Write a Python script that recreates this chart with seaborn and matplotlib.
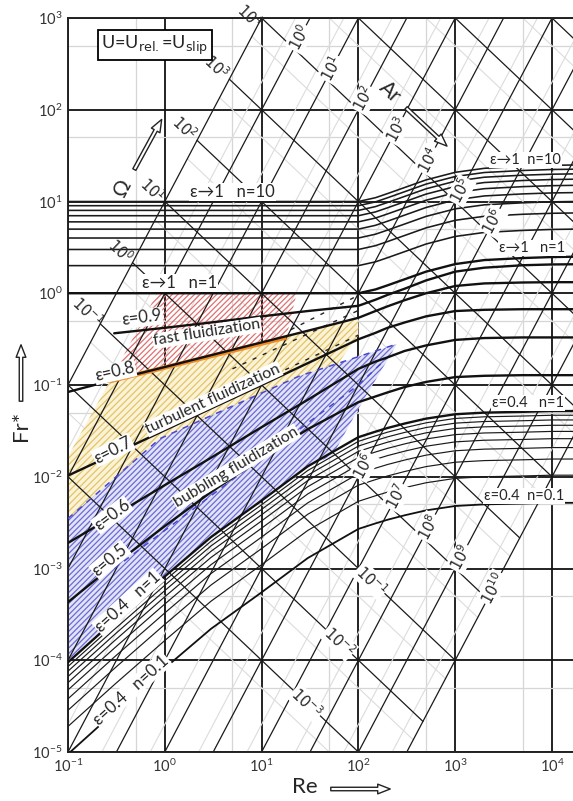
import numpy as np
import pandas as pd
import matplotlib
matplotlib.use("Agg")
import matplotlib.pyplot as plt
import seaborn as sns
from matplotlib.patches import Polygon, FancyArrowPatch
from matplotlib.ticker import FixedLocator, NullFormatter, LogFormatterSciNotation

# ---------------- data ----------------
re_left = [0.1, 0.3, 1, 3, 10, 30, 100]
re_right = [100, 150, 200, 300, 500, 1000, 2000, 5000, 10000, 17000]
eps_names = ["1", "0.9", "0.8", "0.7", "0.6", "0.5", "0.4"]
fr_left = {
    "1":   [1, 1, 1, 1, 1, 1, 1],
    "0.9": [np.nan, 0.366, 0.42, 0.48, 0.56, 0.64, 0.73],
    "0.8": [0.084, 0.114, 0.157, 0.211, 0.291, 0.39, 0.54],
    "0.7": [0.0103, 0.0177, 0.0322, 0.0555, 0.100, 0.173, 0.315],
    "0.6": [0.0019, 0.00378, 0.0081, 0.0161, 0.0347, 0.069, 0.15],
    "0.5": [0.00043, 0.0011, 0.0029, 0.0068, 0.016, 0.033, 0.065],
    "0.4": [0.000095, 0.00027, 0.00082, 0.0022, 0.0055, 0.013, 0.027],
}
fr_right = {
    "1":   [1.0, 1.1, 1.22, 1.42, 1.72, 2.08, 2.3, 2.42, 2.48, 2.5],
    "0.9": [0.73, 0.85, 0.96, 1.12, 1.38, 1.72, 1.9, 2.02, 2.06, 2.07],
    "0.8": [0.54, 0.64, 0.72, 0.84, 1.0, 1.2, 1.28, 1.31, 1.32, 1.32],
    "0.7": [0.315, 0.37, 0.42, 0.48, 0.56, 0.64, 0.66, 0.67, 0.67, 0.67],
    "0.6": [0.15, 0.18, 0.2, 0.235, 0.27, 0.31, 0.325, 0.33, 0.33, 0.33],
    "0.5": [0.065, 0.075, 0.083, 0.095, 0.108, 0.122, 0.126, 0.128, 0.128, 0.128],
    "0.4": [0.027, 0.031, 0.034, 0.038, 0.043, 0.048, 0.05, 0.051, 0.052, 0.052],
}
n_top = [2, 3, 4, 5, 6, 7, 8, 9, 10]                 # family eps -> 1
n_bottom = [0.2, 0.3, 0.4, 0.5, 0.6, 0.7, 0.8, 0.9]  # family eps = 0.4
n_bottom_end = 0.1
omega_major = [1e-3, 1e-2, 1e-1, 1e0, 1e1, 1e2, 1e3, 1e4, 1e5, 1e6, 1e7]
ar_major = [1e-1, 1e0, 1e1, 1e2, 1e3, 1e4, 1e5, 1e6, 1e7, 1e8, 1e9, 1e10]
omega_minor = [5e-4, 5e-3, 5e-2, 5e-1, 5e0, 5e1, 5e2, 5e3, 5e4, 5e5, 5e6]
ar_minor = [5e-1, 5e0, 5e1, 5e2, 5e3, 5e4, 5e5, 5e6, 5e7, 5e8, 5e9]
ar_min, ar_max = 0.1, 1e10
omega_labels_top = [1e-1, 1e0, 1e1, 1e2, 1e3, 1e4]
omega_labels_low = [1e-1, 1e-2, 1e-3]
ar_labels_top = [1e0, 1e1, 1e2, 1e3, 1e4, 1e5, 1e6]
ar_labels_low = [1e6, 1e7, 1e8, 1e9, 1e10]
x_ticks = [1e-1, 1e0, 1e1, 1e2, 1e3, 1e4]
y_ticks = [1e-5, 1e-4, 1e-3, 1e-2, 1e-1, 1e0, 1e1, 1e2, 1e3]
x_minor = [0.5, 5, 50, 500, 5000]
y_minor = [5e-5, 5e-4, 5e-3, 5e-2, 5e-1, 5e0, 5e1, 5e2]

# regions
red_re = [0.83, 23, 18, 0.27]
red_fr = [1.0, 1.0, 0.33, 0.11]
yel_re = [0.1, 0.27, 1, 3, 10, 30, 100, 100, 40, 0.1]
yel_fr = [0.0167, 0.11, 0.157, 0.211, 0.291, 0.39, 0.54, 0.35, 0.09, 0.0015]
blu_re = [0.1, 0.89, 24.5, 250, 100, 54, 30, 10, 3, 1, 0.3, 0.1]
blu_fr = [0.0035, 0.026, 0.125, 0.28, 0.055, 0.017, 0.013, 0.0055, 0.0022, 0.00082, 0.00027, 0.000095]
dash_black = [([20, 100], [0.40, 0.95]), ([5, 100], [0.15, 0.65]), ([1, 100], [0.035, 0.35])]
dash_blue = [([0.1, 0.89, 24.5, 250], [0.0035, 0.026, 0.125, 0.28]),
             ([0.3, 100, 200], [0.001, 0.1, 0.2])]

# ---------------- figure ----------------
W, H = 573, 801
sns.set_style("white")
plt.rcParams["font.family"] = ["Lato", "DejaVu Sans"]
plt.rcParams["mathtext.fontset"] = "dejavusans"
plt.rcParams["hatch.linewidth"] = 0.9

fig = plt.figure(figsize=(W / 100, H / 100), dpi=100)
x0, y0, y1 = 68, 752, 18
ax = fig.add_axes([x0 / W, (H - y0) / H, (W - x0) / W, (y0 - y1) / H])
ax.set_xscale("log")
ax.set_yscale("log")
xmax = 10 ** (-1 + (W - x0) / 96.8)
ax.set_xlim(0.1, xmax)
ax.set_ylim(1e-5, 1e3)

def fx(px):
    return px / W

def fy(py):
    return 1 - py / H

# grid and ticks
ax.xaxis.set_major_locator(FixedLocator(x_ticks))
ax.yaxis.set_major_locator(FixedLocator(y_ticks))
ax.xaxis.set_major_formatter(LogFormatterSciNotation())
ax.yaxis.set_major_formatter(LogFormatterSciNotation())
ax.xaxis.set_minor_locator(FixedLocator(x_minor))
ax.yaxis.set_minor_locator(FixedLocator(y_minor))
ax.xaxis.set_minor_formatter(NullFormatter())
ax.yaxis.set_minor_formatter(NullFormatter())
ax.grid(which="minor", color="#d6d6d6", lw=0.9, zorder=0)
ax.grid(which="major", color="#111111", lw=1.3, zorder=1)
ax.set_axisbelow(True)
ax.tick_params(which="both", length=0, labelsize=10.5, colors="#333333", pad=4)
for s in ["left", "top", "bottom"]:
    ax.spines[s].set_color("#222222")
    ax.spines[s].set_linewidth(1.4)
ax.spines["right"].set_visible(False)

# ---------------- regions ----------------
def region(res, frs, face, hatchc, hatch, z):
    pts = np.column_stack([res, frs])
    if face is not None:
        ax.add_patch(Polygon(pts, closed=True, facecolor=face, edgecolor="none", lw=0, zorder=z))
    ax.add_patch(Polygon(pts, closed=True, facecolor="none", edgecolor=hatchc, hatch=hatch, lw=0, zorder=z + 0.1))

region(yel_re, yel_fr, "#fbf3d6", "#e3c46a", "/////", 1.5)
region(blu_re, blu_fr, "#e3e3f7", "#6b6bd6", "//////", 1.7)
region(red_re, red_fr, None, "#e07070", "//////", 1.6)

# ---------------- diagonal Omega / Ar lines ----------------
def diag_frame(omegas, ars):
    rows = []
    for i, om in enumerate(omegas):
        r0, r1 = (om * ar_min) ** (1 / 3), (om * ar_max) ** (1 / 3)
        for r in (r0, r1):
            rows.append(("om%d" % i, r, om / r))
    for i, a in enumerate(ars):
        for r in (1e-2, 1e6):
            rows.append(("ar%d" % i, r, r * r / a))
    return pd.DataFrame(rows, columns=["id", "Re", "Fr"])

sns.lineplot(data=diag_frame(omega_minor, ar_minor), x="Re", y="Fr", units="id",
             estimator=None, sort=False, color="#dcdcdc", lw=0.8, ax=ax, zorder=1.2)
sns.lineplot(data=diag_frame(omega_major, ar_major), x="Re", y="Fr", units="id",
             estimator=None, sort=False, color="#1a1a1a", lw=0.9, ax=ax, zorder=2)

# ---------------- eps / n curves ----------------
re_all = re_left + re_right
rows = []
for e in eps_names:
    for r, f in zip(re_all, fr_left[e] + fr_right[e]):
        rows.append(("e" + e, r, f))
dthick = pd.DataFrame(rows, columns=["id", "Re", "Fr"])

base_top = fr_left["1"] + fr_right["1"]
base_bot = fr_left["0.4"] + fr_right["0.4"]
dtop = pd.DataFrame([("t%g" % n, r, n * f) for n in n_top for r, f in zip(re_all, base_top)],
                    columns=["id", "Re", "Fr"])
dbot = pd.DataFrame([("b%g" % n, r, n * f) for n in n_bottom for r, f in zip(re_all, base_bot)],
                    columns=["id", "Re", "Fr"])
dend = pd.DataFrame([("b01", r, n_bottom_end * f) for r, f in zip(re_all, base_bot)],
                    columns=["id", "Re", "Fr"])

# orange border below the red region
ax.plot(red_re[2:][::-1], red_fr[2:][::-1], color="#f08a24", lw=3.2, zorder=2.5, solid_capstyle="butt")

sns.lineplot(data=dtop, x="Re", y="Fr", units="id", estimator=None, sort=False,
             color="#1a1a1a", lw=1.15, ax=ax, zorder=3)
sns.lineplot(data=dbot, x="Re", y="Fr", units="id", estimator=None, sort=False,
             color="#1a1a1a", lw=0.85, ax=ax, zorder=3)
sns.lineplot(data=dend, x="Re", y="Fr", units="id", estimator=None, sort=False,
             color="#111111", lw=1.3, ax=ax, zorder=3)
sns.lineplot(data=dthick, x="Re", y="Fr", units="id", estimator=None, sort=False,
             color="#111111", lw=1.7, ax=ax, zorder=3.2)

for xs, ys in dash_black:
    ax.plot(xs, ys, color="#222222", lw=1.0, ls=(0, (3, 5)), zorder=3)
for xs, ys in dash_blue:
    ax.plot(xs, ys, color="#4848d0", lw=1.1, ls=(0, (4, 4)), zorder=3)

ax.set_xlabel("")
ax.set_ylabel("")
if ax.get_legend() is not None:
    ax.get_legend().remove()

# ---------------- labels on the diagonals ----------------
wb = dict(facecolor="white", edgecolor="none", pad=0.6)
def mexp(v):
    return r"$10^{%d}$" % int(round(np.log10(v)))

for om in omega_labels_top:
    r0 = (om * ar_min) ** (1 / 3)
    up = 0.13 if om < 1e4 else 0.02
    ax.text(r0 * 10 ** -0.13, om / r0 * 10 ** up, mexp(om), rotation=-43.5, fontsize=10.5,
            ha="center", va="center", zorder=6, clip_on=False)
for om in omega_labels_low:
    r = (om * 2.5e7) ** (1 / 3)
    ax.text(r, om / r, mexp(om), rotation=-43.5, fontsize=10.5, ha="center", va="center",
            bbox=wb, zorder=6)
for a in ar_labels_top:
    r = (a * 1.5e4) ** (1 / 3)
    ax.text(r, r * r / a, mexp(a), rotation=62, fontsize=10.5, ha="center", va="center",
            bbox=wb, zorder=6)
for a in ar_labels_low:
    r = (a * 1.5) ** (1 / 3)
    ax.text(r, r * r / a, mexp(a), rotation=62, fontsize=10.5, ha="center", va="center",
            bbox=wb, zorder=6)

# ---------------- curve / region labels (pixel positions) ----------------
def ptxt(x, y, s, rot=0, size=12, ha="center", bbox=True):
    fig.text(fx(x), fy(y), s, rotation=rot, fontsize=size, ha=ha, va="center",
             rotation_mode="anchor", bbox=wb if bbox else None, zorder=7)

ptxt(190, 192, "ε→1   n=10", ha="left")
ptxt(490, 160, "ε→1  n=10", ha="left", size=10.5)
ptxt(142, 283, "ε→1   n=1", ha="left")
ptxt(499, 248, "ε→1   n=1", ha="left", size=10.5)
ptxt(142, 318, "ε=0.9", rot=7)
ptxt(115, 372, "ε=0.8", rot=13)
ptxt(113, 450, "ε=0.7", rot=27)
ptxt(112, 515, "ε=0.6", rot=37)
ptxt(110, 560, "ε=0.5", rot=40)
ptxt(128, 602, "ε=0.4   n=1", rot=42)
ptxt(131, 690, "ε=0.4   n=0.1", rot=42)
ptxt(492, 403, "ε=0.4   n=1", ha="left", size=10.5)
ptxt(484, 496, "ε=0.4  n=0.1", ha="left", size=10.5)
ptxt(207, 333, "fast fluidization", rot=9, size=11.5)
ptxt(213, 399, "turbulent fluidization", rot=25, size=11.5)
ptxt(236, 467, "bubbling fluidization", rot=31, size=11.5)

# box
fig.text(fx(155), fy(45), r"U=U$_{\rm rel.}$=U$_{\rm slip}$", fontsize=13, ha="center",
         va="center", bbox=dict(facecolor="white", edgecolor="black", lw=1.3, pad=2.5), zorder=8)

# axis titles with hollow arrows
fig.text(fx(305), fy(787), "Re", fontsize=16, ha="center", va="center")
fig.text(fx(21), fy(426), "Fr*", fontsize=16, ha="center", va="center", rotation=90)
fig.text(fx(390), fy(92), "Ar", fontsize=15, ha="center", va="center", rotation=-43)
fig.text(fx(123), fy(188), "Ω", fontsize=15, ha="center", va="center", rotation=62)

def parrow(xa, ya, xb, yb):
    p = FancyArrowPatch((fx(xa), fy(ya)), (fx(xb), fy(yb)), transform=fig.transFigure,
                        arrowstyle="simple,head_width=7,head_length=9,tail_width=2.5",
                        fc="white", ec="#222222", lw=1.0, zorder=8, mutation_scale=1)
    fig.patches.append(p)

parrow(328, 789, 393, 789)
parrow(21, 404, 21, 342)
parrow(404, 106, 449, 148)
parrow(133, 172, 163, 117)

fig.savefig("out.png", dpi=100)
